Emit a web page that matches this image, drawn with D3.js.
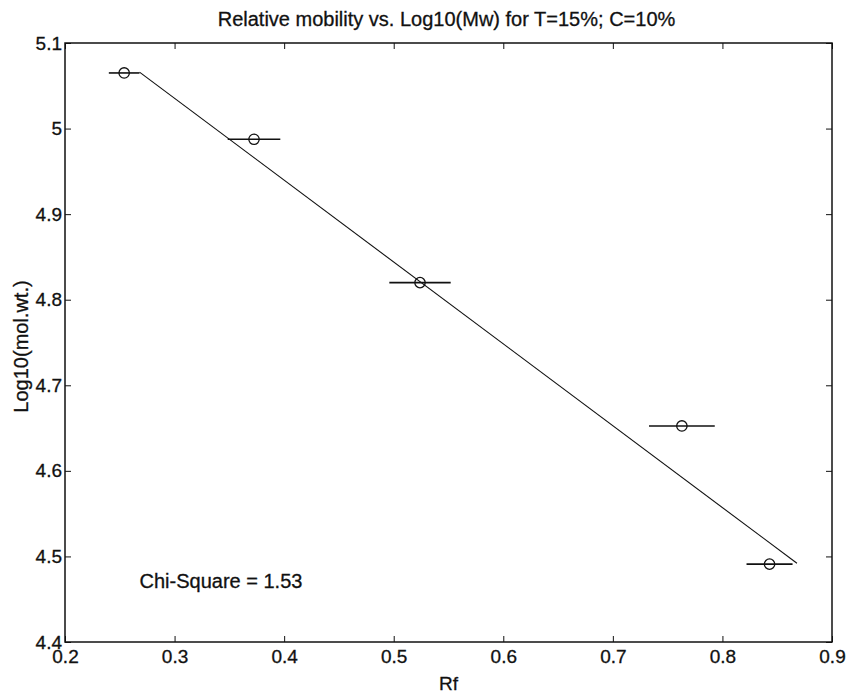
<!DOCTYPE html>
<html>
<head>
<meta charset="utf-8">
<script src="https://cdn.jsdelivr.net/npm/d3@7"></script>
<style>
    body { margin: 0; background: #fff; }
    svg { display: block; font-family: "Liberation Sans", Arial, sans-serif; }
    svg text { fill: #111; stroke: #111; stroke-width: 0.3px; }
    .axis text { font-size: 19px; }
    .axis line, .axis path { stroke: #111; }
</style>
</head>
<body>
<svg id="chart" width="852" height="693"></svg>
<script>
// measured points: Rf, log10(Mw) and horizontal error on Rf
const rf = [0.254, 0.3725, 0.524, 0.763, 0.843];
const logMw = [5.065, 4.9875, 4.820, 4.6525, 4.491];
const rfErr = [0.014, 0.024, 0.028, 0.030, 0.021];

// fitted line end points
const fitRf = [0.268, 0.868];
const fitLogMw = [5.066, 4.492];

const xTicks = [0.2, 0.3, 0.4, 0.5, 0.6, 0.7, 0.8, 0.9];
const yTicks = [4.4, 4.5, 4.6, 4.7, 4.8, 4.9, 5.0, 5.1];

const title = "Relative mobility vs. Log10(Mw) for T=15%; C=10%";
const xLabel = "Rf";
const yLabel = "Log10(mol.wt.)";
const chiText = "Chi-Square = 1.53";

const plotLeft = 65, plotRight = 832, plotTop = 43, plotBottom = 642;

const svg = d3.select("#chart");

const xScale = d3.scaleLinear().domain([0.2, 0.9]).range([plotLeft, plotRight]);
const yScale = d3.scaleLinear().domain([4.4, 5.1]).range([plotBottom, plotTop]);

const fmt = d => String(+d.toFixed(1));

// axes, ticks pointing inward
svg.append("g").attr("class", "axis")
    .attr("transform", `translate(0, ${plotBottom})`)
    .call(d3.axisBottom(xScale).tickValues(xTicks).tickFormat(fmt).tickSize(-6).tickSizeOuter(0).tickPadding(8))
    .call(g => g.select(".domain").remove());

svg.append("g").attr("class", "axis")
    .attr("transform", `translate(${plotLeft}, 0)`)
    .call(d3.axisLeft(yScale).tickValues(yTicks).tickFormat(fmt).tickSize(-6).tickSizeOuter(0).tickPadding(3))
    .call(g => g.select(".domain").remove());

svg.append("g").attr("class", "axis")
    .attr("transform", `translate(0, ${plotTop})`)
    .call(d3.axisTop(xScale).tickValues(xTicks).tickFormat("").tickSize(-6).tickSizeOuter(0))
    .call(g => g.select(".domain").remove());

svg.append("g").attr("class", "axis")
    .attr("transform", `translate(${plotRight}, 0)`)
    .call(d3.axisRight(yScale).tickValues(yTicks).tickFormat("").tickSize(-6).tickSizeOuter(0))
    .call(g => g.select(".domain").remove());

// frame
svg.append("rect")
    .attr("x", plotLeft).attr("y", plotTop)
    .attr("width", plotRight - plotLeft).attr("height", plotBottom - plotTop)
    .attr("fill", "none").attr("stroke", "#111").attr("stroke-width", 1.5);

// fitted line
svg.append("line")
    .attr("x1", xScale(fitRf[0])).attr("y1", yScale(fitLogMw[0]))
    .attr("x2", xScale(fitRf[1])).attr("y2", yScale(fitLogMw[1]))
    .attr("stroke", "#111").attr("stroke-width", 1.1);

const pts = rf.map((d, i) => ({ x: d, y: logMw[i], e: rfErr[i] }));

// error bars
svg.selectAll(".errbar")
    .data(pts)
    .join("line")
    .attr("class", "errbar")
    .attr("x1", d => xScale(d.x - d.e))
    .attr("x2", d => xScale(d.x + d.e))
    .attr("y1", d => yScale(d.y))
    .attr("y2", d => yScale(d.y))
    .attr("stroke", "#111").attr("stroke-width", 1.6);

// markers
svg.selectAll(".marker")
    .data(pts)
    .join("circle")
    .attr("class", "marker")
    .attr("cx", d => xScale(d.x))
    .attr("cy", d => yScale(d.y))
    .attr("r", 5.2)
    .attr("fill", "none").attr("stroke", "#111").attr("stroke-width", 1.3);

// Title
svg.append("text")
    .attr("x", (plotLeft + plotRight) / 2 - 2)
    .attr("y", 26)
    .attr("text-anchor", "middle")
    .attr("font-size", 20)
    .text(title);

// Labels
svg.append("text")
    .attr("x", (plotLeft + plotRight) / 2)
    .attr("y", 690)
    .attr("text-anchor", "middle")
    .attr("font-size", 19)
    .text(xLabel);

svg.append("text")
    .attr("transform", `translate(${28}, ${(plotTop + plotBottom) / 2 + 4}) rotate(-90)`)
    .attr("text-anchor", "middle")
    .attr("font-size", 20)
    .text(yLabel);

svg.append("text")
    .attr("x", xScale(0.268))
    .attr("y", yScale(4.463))
    .attr("font-size", 20)
    .text(chiText);
</script>
</body>
</html>
